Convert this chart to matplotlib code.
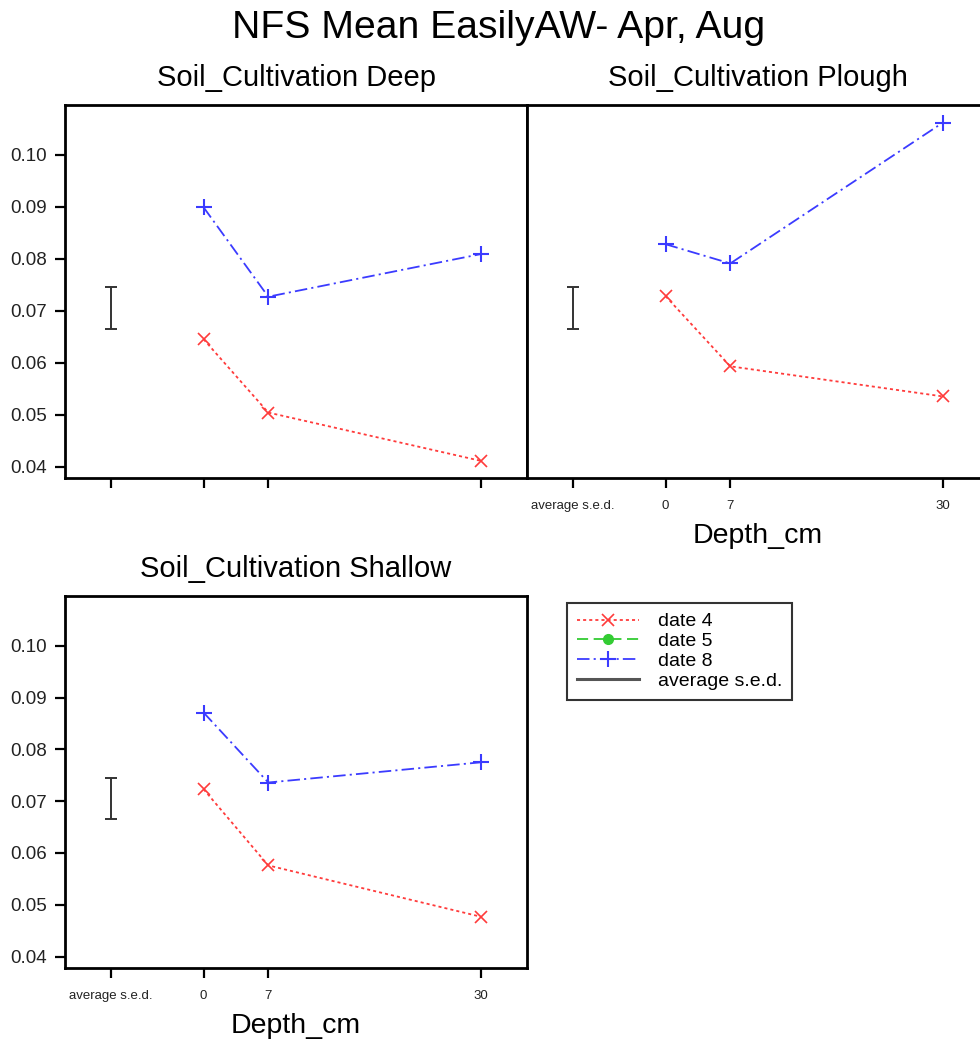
import matplotlib
matplotlib.use('Agg')
import matplotlib.pyplot as plt
from matplotlib.lines import Line2D
from matplotlib.ticker import FormatStrFormatter

# ---------------- data ----------------
depth = [0, 7, 30]
sed_position = -10
sed_center = 0.07055
sed_half = 0.0040
xtick_labels = ['average s.e.d.', '0', '7', '30']

date4_deep = [0.0645, 0.0504, 0.0411]
date8_deep = [0.0899, 0.0727, 0.0809]
date4_plough = [0.0728, 0.0593, 0.0535]
date8_plough = [0.0828, 0.0791, 0.1062]
date4_shallow = [0.0723, 0.0576, 0.0477]
date8_shallow = [0.0871, 0.0736, 0.0775]
date5_x = []   # date 5 has no values drawn
date5_y = []

titles = ['Soil_Cultivation Deep', 'Soil_Cultivation Plough', 'Soil_Cultivation Shallow']
yticks = [0.04, 0.05, 0.06, 0.07, 0.08, 0.09, 0.10]

# ---------------- style ----------------
plt.rcParams['font.family'] = ['Liberation Sans', 'DejaVu Sans']
plt.rcParams['lines.scale_dashes'] = False

W, H = 980, 1041
fig = plt.figure(figsize=(W / 100, H / 100), dpi=100)

def fx(px):
    return px / W

def fy(py):
    return 1 - py / H

ax_w = fx(527) - fx(65)
pos_deep = [fx(65), fy(478), ax_w, (478 - 105) / H]
pos_plough = [fx(527), fy(478), ax_w, (478 - 105) / H]
pos_shallow = [fx(65), fy(968), ax_w, (968 - 596) / H]

red = '#ff3b3b'
blue = '#3b3bff'
green = '#33cc33'
sed_color = '#333333'

def draw(ax, d4, d8, title, ylabels=True, xlabels=True):
    ax.plot(depth, d4, color=red, lw=1.3, linestyle=(0, (2.2, 2.2)),
            marker='x', markersize=8, markeredgewidth=1.2, label='date 4')
    ax.plot(date5_x, date5_y, color=green, lw=1.3, linestyle=(0, (8, 4)),
            marker='o', markersize=7, label='date 5')
    ax.plot(depth, d8, color=blue, lw=1.3, linestyle=(0, (9, 3, 1.5, 3)),
            marker='+', markersize=12, markeredgewidth=1.5, label='date 8')
    ax.errorbar([sed_position], [sed_center], yerr=[sed_half], fmt='none',
                ecolor=sed_color, elinewidth=1.4, capsize=4, capthick=1.4)
    ax.set_xlim(-15, 35)
    ax.set_ylim(0.0378, 0.1096)
    ax.set_yticks(yticks)
    ax.yaxis.set_major_formatter(FormatStrFormatter('%.2f'))
    ax.set_xticks([sed_position] + depth)
    for s in ax.spines.values():
        s.set_linewidth(2.0)
    ax.tick_params(axis='both', direction='out', length=7.5, width=1.6,
                   colors='black')
    ax.tick_params(axis='y', labelsize=13.5, pad=5.5, labelcolor='#222222')
    ax.tick_params(axis='x', labelsize=9.5, pad=8, labelcolor='#222222')
    if xlabels:
        ax.set_xticklabels(xtick_labels)
        ax.set_xlabel('Depth_cm', fontsize=20.5, labelpad=8)
    else:
        ax.set_xticklabels([])
    if not ylabels:
        ax.tick_params(axis='y', left=False, labelleft=False)
    ax.set_title(title, fontsize=21, pad=13.5)

ax1 = fig.add_axes(pos_deep)
draw(ax1, date4_deep, date8_deep, titles[0], ylabels=True, xlabels=False)
ax2 = fig.add_axes(pos_plough)
draw(ax2, date4_plough, date8_plough, titles[1], ylabels=False, xlabels=True)
ax2.spines['right'].set_visible(False)
ax3 = fig.add_axes(pos_shallow)
draw(ax3, date4_shallow, date8_shallow, titles[2], ylabels=True, xlabels=True)

fig.suptitle('NFS Mean EasilyAW- Apr, Aug', fontsize=28.2, x=fx(498.5),
             y=fy(38), va='baseline')

handles, labels = ax3.get_legend_handles_labels()
handles.append(Line2D([], [], color='#555555', lw=2.2))
labels.append('average s.e.d.')
leg = fig.legend(handles, labels, loc='upper left',
                 bbox_to_anchor=(fx(567), fy(603)), bbox_transform=fig.transFigure,
                 borderaxespad=0, fontsize=14, frameon=True, fancybox=False,
                 handlelength=3.2, handletextpad=1.0, labelspacing=0.12,
                 borderpad=0.5)
leg.get_frame().set_edgecolor('black')
leg.get_frame().set_linewidth(1.5)

fig.savefig('out.png', dpi=100)
